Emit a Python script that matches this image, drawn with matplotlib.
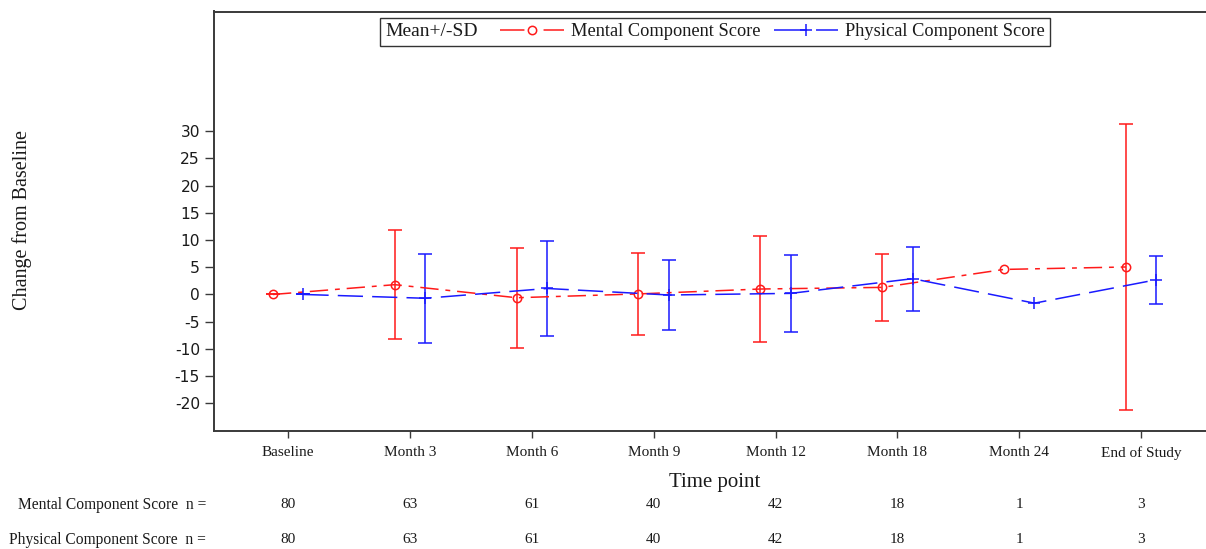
import numpy as np
import matplotlib
matplotlib.use("Agg")
import matplotlib.pyplot as plt
from matplotlib.lines import Line2D
from matplotlib.offsetbox import HPacker
from matplotlib.transforms import blended_transform_factory

# ---- data ---------------------------------------------------------------
categories = ['Baseline', 'Month 3', 'Month 6', 'Month 9', 'Month 12',
              'Month 18', 'Month 24', 'End of Study']
mcs_mean = [0.0, 1.8, -0.6, 0.1, 1.0, 1.3, 4.6, 5.05]
mcs_sd = [0.0, 10.0, 9.2, 7.6, 9.7, 6.1, np.nan, 26.2]
pcs_mean = [0.0, -0.7, 1.1, -0.1, 0.2, 2.9, -1.6, 2.7]
pcs_sd = [0.0, 8.2, 8.7, 6.4, 7.1, 5.9, np.nan, 4.4]
mcs_n = [80, 63, 61, 40, 42, 18, 1, 3]
pcs_n = [80, 63, 61, 40, 42, 18, 1, 3]
yticks = [-20, -15, -10, -5, 0, 5, 10, 15, 20, 25, 30]

# ---- styling ------------------------------------------------------------
SERIF = ['Liberation Serif', 'DejaVu Serif']
SANS = ['DejaVu Sans']
RED = '#ff1a1a'
BLUE = '#1a1aff'
TXT = '#1a1a1a'
AXC = '#3a3a3a'
LW = 1.1
W, H = 1206, 549

fig = plt.figure(figsize=(W / 100, H / 100), dpi=100)
ax_l, ax_r, ax_t, ax_b = 214, 1206, 11.5, 430.5
ax = fig.add_axes([ax_l / W, 1 - ax_b / H, (ax_r - ax_l) / W, (ax_b - ax_t) / H])

x = np.arange(len(categories))
off = 0.125

ax.errorbar(x - off, mcs_mean, yerr=mcs_sd, fmt='none', ecolor=RED,
            elinewidth=LW, capsize=4.7, capthick=LW, zorder=2)
ax.errorbar(x + off, pcs_mean, yerr=pcs_sd, fmt='none', ecolor=BLUE,
            elinewidth=LW, capsize=4.7, capthick=LW, zorder=2)
ax.plot(x - off, mcs_mean, color=RED, lw=LW, dashes=(12, 4.5, 3.2, 4.5),
        marker='o', ms=6, mfc='none', mec=RED, mew=LW, zorder=3)
ax.plot(x + off, pcs_mean, color=BLUE, lw=LW, dashes=(16.5, 6),
        marker='+', ms=8, mec=BLUE, mew=LW, zorder=3)

ax.set_xlim(-0.609, 7.533)
ax.set_ylim(-25, 52)
ax.set_xticks(x)
ax.set_xticklabels(categories, family=SERIF, fontsize=11, color=TXT)
ax.set_yticks(yticks)
ax.set_yticklabels([str(v) for v in yticks], family=SANS, fontsize=11.2, color=TXT)
ax.tick_params(axis='y', length=6.5, width=1.0, color=AXC, pad=3.5)
ax.tick_params(axis='x', length=5, width=1.0, color=AXC, pad=6.5)

ax.spines['right'].set_visible(False)
for s in ('left', 'top', 'bottom'):
    ax.spines[s].set_color(AXC)
    ax.spines[s].set_linewidth(1.4)

# axis titles
fig.text(22 / W, 1 - 220 / H, 'Change from Baseline', rotation=90,
         ha='center', va='center', family=SERIF, fontsize=14.5, color=TXT)
fig.text(715 / W, 1 - 482.5 / H, 'Time point', ha='center', va='center',
         family=SERIF, fontsize=15, color=TXT)

# subject counts under the axis
row_tr = blended_transform_factory(ax.transData, fig.transFigure)
for label, counts, ypix in (('Mental Component Score  n =', mcs_n, 505),
                            ('Physical Component Score  n =', pcs_n, 539.5)):
    fig.text(206 / W, 1 - ypix / H, label, ha='right', va='center',
             family=SERIF, fontsize=11.2, color=TXT)
    for xi, n in zip(x, counts):
        ax.text(xi, 1 - ypix / H, str(n), transform=row_tr, ha='center',
                va='center', family=SERIF, fontsize=11, color=TXT)

# legend keys: line broken around the symbol
h_mcs = Line2D([], [], color=RED, lw=LW, dashes=(16, 12.5, 16),
               marker='o', ms=6, mfc='none', mec=RED, mew=LW)
h_pcs = Line2D([], [], color=BLUE, lw=LW, dashes=(21, 6.5, 17),
               marker='+', ms=8, mec=BLUE, mew=LW)

# legend with the title placed to the left of the entries
leg = ax.legend([h_mcs, h_pcs],
                ['Mental Component Score', 'Physical Component Score'],
                loc='upper center', bbox_to_anchor=(715 / W, 1 - 18 / H),
                bbox_transform=fig.transFigure, ncol=2,
                prop={'family': SERIF, 'size': 13.2},
                title='Mean+/-SD',
                title_fontproperties={'family': SERIF, 'size': 14},
                frameon=True, fancybox=False, shadow=False, borderaxespad=0,
                borderpad=0.3, handlelength=3.5, handletextpad=0.4,
                columnspacing=0.7, framealpha=1)
leg.get_frame().set_edgecolor('#333333')
leg.get_frame().set_linewidth(1.0)
for t in leg.get_texts():
    t.set_color(TXT)
leg.get_title().set_color(TXT)
fs = leg._fontsize
box = HPacker(pad=leg.borderpad * fs, sep=16, align='center',
              children=[leg._legend_title_box, leg._legend_handle_box])
box.set_figure(fig)
box.axes = ax
leg._legend_box = box
box.set_offset(leg._findoffset)

fig.savefig('out.png', dpi=100)
